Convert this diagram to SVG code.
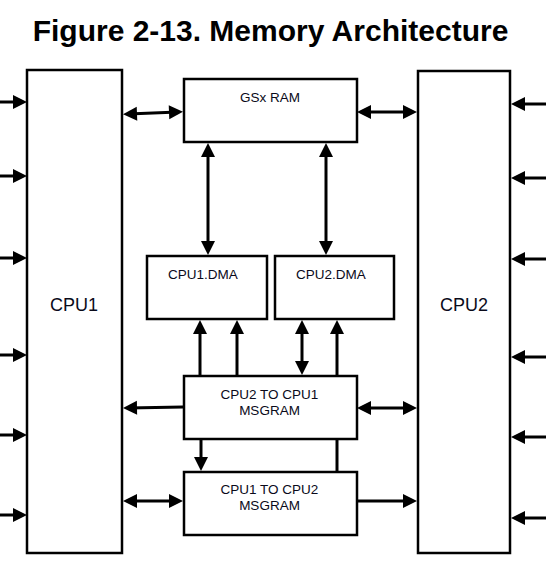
<svg xmlns="http://www.w3.org/2000/svg" width="546" height="568" viewBox="0 0 546 568">
<style>
.box{fill:#fff;stroke:#000;stroke-width:2.5}
.lbl{font-family:"Liberation Sans",Arial,sans-serif;font-size:13.5px;fill:#0a0a1a;text-anchor:middle}
.big{font-size:18px}
.title{font-family:"Liberation Sans",Arial,sans-serif;font-size:30px;font-weight:bold;fill:#000;text-anchor:middle}
.c{stroke:#000;stroke-width:3;fill:none}
.a{marker-end:url(#ah)}
.b{marker-start:url(#ah);marker-end:url(#ah)}
</style>
<defs>
<marker id="ah" markerUnits="userSpaceOnUse" markerWidth="14" markerHeight="14" refX="9" refY="7" orient="auto-start-reverse" overflow="visible">
<path d="M0,0 L14,7 L0,14 z" fill="#000"/>
</marker>
</defs>
<rect width="546" height="568" fill="#fff"/>
<text class="title" x="270.5" y="41">Figure 2-13. Memory Architecture</text>

<g id="cpu1"><rect class="box" x="27" y="70" width="95" height="483"/><text class="lbl big" x="74" y="311">CPU1</text></g>
<g id="cpu2"><rect class="box" x="418" y="71" width="92" height="482"/><text class="lbl big" x="464" y="311">CPU2</text></g>
<g id="gsxram"><rect class="box" x="184" y="79" width="173" height="63"/><text class="lbl" x="270" y="102">GSx RAM</text></g>
<g id="cpu1dma"><rect class="box" x="147" y="256" width="120" height="63"/><text class="lbl" x="203" y="279">CPU1.DMA</text></g>
<g id="cpu2dma"><rect class="box" x="275" y="256" width="119" height="63"/><text class="lbl" x="331" y="279">CPU2.DMA</text></g>
<g id="msgram21"><rect class="box" x="184" y="376" width="173" height="63"/><text class="lbl" x="269.5" y="399">CPU2 TO CPU1</text><text class="lbl" x="269.5" y="415">MSGRAM</text></g>
<g id="msgram12"><rect class="box" x="184" y="472" width="173" height="63"/><text class="lbl" x="269.5" y="494">CPU1 TO CPU2</text><text class="lbl" x="269.5" y="510">MSGRAM</text></g>

<g id="connectors">
<line class="c a" x1="0" y1="102" x2="22" y2="102"/>
<line class="c a" x1="0" y1="176" x2="22" y2="176"/>
<line class="c a" x1="0" y1="258" x2="22" y2="258"/>
<line class="c a" x1="0" y1="355" x2="22" y2="355"/>
<line class="c a" x1="0" y1="435" x2="22" y2="435"/>
<line class="c a" x1="0" y1="515" x2="22" y2="515"/>
<line class="c a" x1="546" y1="104" x2="516" y2="104"/>
<line class="c a" x1="546" y1="178" x2="516" y2="178"/>
<line class="c a" x1="546" y1="259" x2="516" y2="259"/>
<line class="c a" x1="546" y1="357" x2="516" y2="357"/>
<line class="c a" x1="546" y1="437" x2="516" y2="437"/>
<line class="c a" x1="546" y1="518" x2="516" y2="518"/>
<line class="c b" x1="128" y1="114" x2="178" y2="112"/>
<line class="c b" x1="362" y1="112" x2="412" y2="112"/>
<line class="c b" x1="208" y1="148" x2="208" y2="250"/>
<line class="c b" x1="326" y1="148" x2="326" y2="250"/>
<line class="c a" x1="200" y1="376" x2="200" y2="325"/>
<line class="c a" x1="237" y1="376" x2="237" y2="325"/>
<line class="c b" x1="302" y1="325" x2="302" y2="370"/>
<line class="c a" x1="337" y1="376" x2="337" y2="325"/>
<line class="c a" x1="183" y1="407" x2="128" y2="408"/>
<line class="c b" x1="362" y1="408" x2="412" y2="408"/>
<line class="c a" x1="201" y1="439" x2="201" y2="466"/>
<line class="c" x1="337" y1="439" x2="337" y2="472"/>
<line class="c b" x1="128" y1="501" x2="178" y2="501"/>
<line class="c a" x1="357" y1="501" x2="412" y2="501"/>
</g>
</svg>
